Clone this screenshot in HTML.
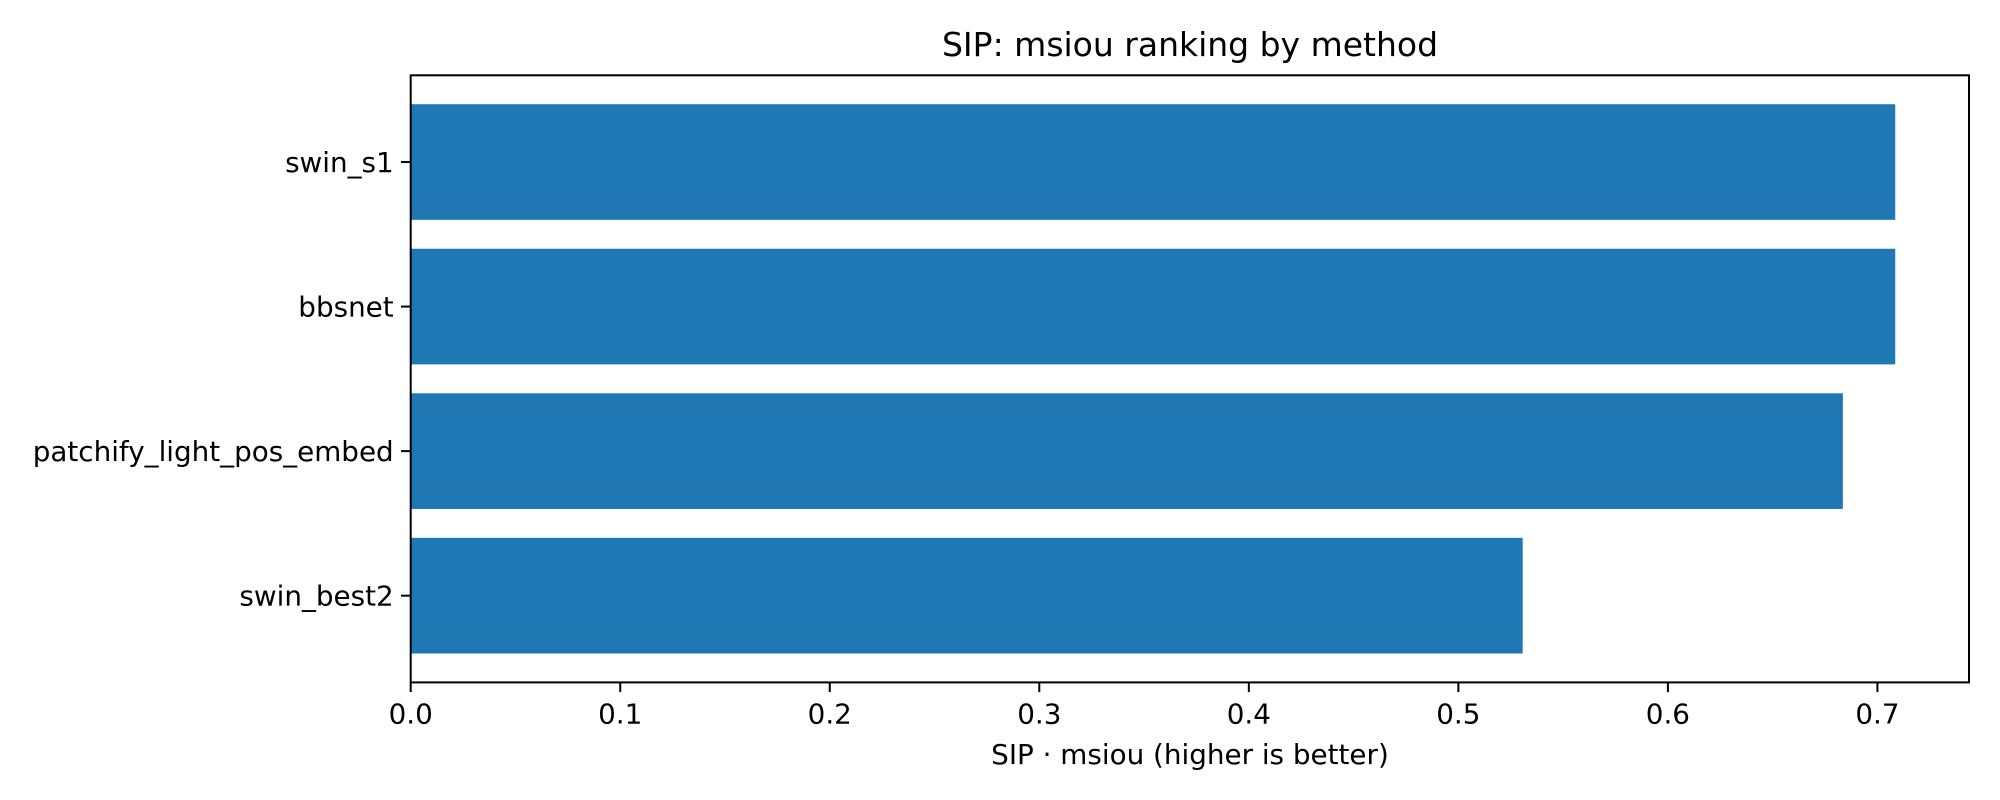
<!DOCTYPE html>
<html><head><meta charset="utf-8"><style>
body{margin:0;background:#fff;}
svg{display:block;font-family:"DejaVu Sans","Liberation Sans",sans-serif;}
</style></head><body>
<svg id="chart" width="2000" height="800">
<text x="1190" y="56" font-size="33" text-anchor="middle">SIP: msiou ranking by method</text>
<g id="bars"></g>
<rect x="410.7" y="75.3" width="1558.3" height="607.1" fill="none" stroke="#000" stroke-width="2"/>
<g id="xticks"></g>
<g id="yticks"></g>
<text x="1190" y="764" font-size="27.8" text-anchor="middle">SIP · msiou (higher is better)</text>
</svg>
<script>
const categories = ["swin_s1","bbsnet","patchify_light_pos_embed","swin_best2"];
const values = [0.7085, 0.7085, 0.6835, 0.5307];
const xTicks = [0.0,0.1,0.2,0.3,0.4,0.5,0.6,0.7];
const tickLabels = ["0.0","0.1","0.2","0.3","0.4","0.5","0.6","0.7"];
const L=410.7,R=1969,T=75.3,B=682.4,XMAX=0.7437;
const NS="http://www.w3.org/2000/svg";
const n=categories.length;
const yMin=-0.6,yMax=n-1+0.6;
const xs=v=>L+(v/XMAX)*(R-L);
const ys=i=>T+(i-yMin)/(yMax-yMin)*(B-T);
const step=(B-T)/(yMax-yMin);
const bars=document.getElementById('bars'),xt=document.getElementById('xticks'),yt=document.getElementById('yticks');
function mk(tag,attrs){const e=document.createElementNS(NS,tag);for(const k in attrs)e.setAttribute(k,attrs[k]);return e;}
categories.forEach((c,i)=>{
  const r=mk('rect',{x:xs(0),y:ys(i)-0.4*step,width:xs(values[i])-xs(0),height:0.8*step,fill:'#1f77b4'});
  
  
  bars.appendChild(r);
  const tk=mk('line',{x1:L-9.7,x2:L,y1:ys(i),y2:ys(i),stroke:'#000','stroke-width':2});
  
  
  yt.appendChild(tk);
  const t=mk('text',{x:L-17,y:ys(i)+10,'font-size':27.8,'text-anchor':'end'});
  t.textContent=c;
  
  
  yt.appendChild(t);
});
xTicks.forEach((v,i)=>{
  const tk=mk('line',{x1:xs(v),x2:xs(v),y1:B,y2:B+9.7,stroke:'#000','stroke-width':2});
  
  
  xt.appendChild(tk);
  const t=mk('text',{x:xs(v),y:B+41,'font-size':27.8,'text-anchor':'middle'});
  t.textContent=tickLabels[i];
  
  
  xt.appendChild(t);
});
</script>
</body></html>
